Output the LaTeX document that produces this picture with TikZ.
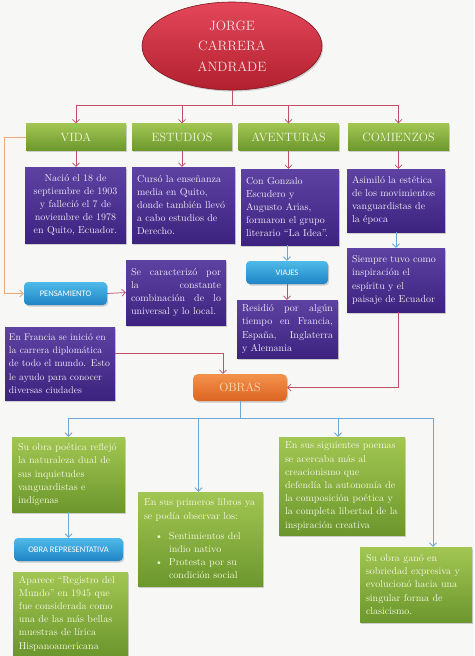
\documentclass[tikz,border=0pt]{standalone}
\usepackage{fontspec}
\newfontfamily\lblfont{Carlito}
\usetikzlibrary{shapes.geometric,arrows.meta,shadows}
\definecolor{bg}{HTML}{F7F7F6}
\definecolor{purtop}{HTML}{5E42A2}
\definecolor{purbot}{HTML}{3D2380}
\definecolor{grtop}{HTML}{A2C652}
\definecolor{grbot}{HTML}{6C972D}
\definecolor{redtop}{HTML}{E4475A}
\definecolor{redbot}{HTML}{B2202E}
\definecolor{ortop}{HTML}{F3924C}
\definecolor{orbot}{HTML}{DC6420}
\definecolor{bltop}{HTML}{4EBAE8}
\definecolor{blbot}{HTML}{1F84C6}
\definecolor{lnred}{HTML}{C05068}
\definecolor{lnblue}{HTML}{6BA7D9}
\definecolor{lnorange}{HTML}{EFA878}
\definecolor{ptext}{HTML}{EEEAF6}
\definecolor{gtext}{HTML}{F4F7E0}
\definecolor{ttext}{HTML}{F8E4E4}
\definecolor{otext}{HTML}{FBDDBE}
\tikzset{
  shad/.style={drop shadow={shadow xshift=1.2pt,shadow yshift=-1.5pt,opacity=0.35}},
  titlebox/.style={ellipse,shad,top color=redtop,bottom color=redbot,draw=redbot!70!black,line width=0.6pt,
    minimum width=180pt,minimum height=88pt,inner sep=0pt,align=center,text=ttext,
    font=\fontsize{13.5}{20.5}\selectfont},
  hdr/.style={rectangle,shad,top color=grtop,bottom color=grbot,minimum width=100pt,minimum height=27pt,
    inner sep=0pt,text=gtext,font=\fontsize{12}{14}\selectfont},
  pbox/.style={rectangle,shad,top color=purtop,bottom color=purbot,inner xsep=5pt,inner ysep=3pt,
    text=ptext,font=\fontsize{10}{13.2}\selectfont,align=left},
  gbox/.style={rectangle,shad,top color=grtop,bottom color=grbot,inner xsep=6pt,inner ysep=3pt,
    text=gtext,font=\fontsize{10}{13.2}\selectfont,align=left},
  lbl/.style={rectangle,rounded corners=4pt,shad,top color=bltop,bottom color=blbot,inner sep=0pt,
    minimum height=23pt,text=white,font=\lblfont\fontsize{8.5}{10}\selectfont},
  obrasbox/.style={rectangle,rounded corners=5pt,shad,top color=ortop,bottom color=orbot,inner sep=0pt,
    minimum width=94pt,minimum height=27pt,text=otext,font=\fontsize{12}{14}\selectfont},
  tip/.style={-{Straight Barb[length=3.5pt,width=7pt]}},
  rl/.style={draw=lnred,line width=0.7pt},
  bl/.style={draw=lnblue,line width=0.8pt},
  ol/.style={draw=lnorange,line width=0.8pt}
}
\begin{document}
\begin{tikzpicture}[x=1pt,y=-1pt]
\fill[bg] (0,0) rectangle (474,656);
\useasboundingbox (0,0) rectangle (474,656);

% title
\node[titlebox] (title) at (232,46) {JORGE\\CARRERA\\ANDRADE};

% headers
\node[hdr] (vida) at (76,137) {VIDA};
\node[hdr] (estudios) at (182,137) {ESTUDIOS};
\node[hdr] (aventuras) at (288.5,137) {AVENTURAS};
\node[hdr,minimum width=101pt] (comienzos) at (398.5,137) {COMIENZOS};

% purple boxes
\node[pbox,text width=91pt,minimum height=76pt,align=center] (vidabox) at (75.5,205)
  {Nació el 18 de\\septiembre de 1903\\y falleció el 7 de\\noviembre de 1978\\en Quito, Ecuador.};
\node[pbox,text width=93pt,minimum height=76pt] (estbox) at (183.5,205)
  {Cursó la enseñanza\\media en Quito,\\donde también llevó\\a cabo estudios de\\Derecho.};
\node[pbox,text width=88pt,minimum height=76pt] (avbox) at (290,207)
  {Con Gonzalo\\Escudero y\\Augusto Arias,\\formaron el grupo\\literario “La Idea”.};
\node[pbox,text width=88pt,minimum height=63pt] (combox) at (396,200.5)
  {Asimiló la estética\\de los movimientos\\vanguardistas de\\la época};
\node[pbox,text width=88pt,minimum height=64pt] (combox2) at (396,280)
  {Siempre tuvo como\\inspiración el\\espíritu y el\\paisaje de Ecuador};
\node[lbl,minimum width=82pt] (viajes) at (287,272.5) {VIAJES};
\node[pbox,text width=91pt,minimum height=58pt,align=justify] (residio) at (287.5,329)
  {Residió por algún\linebreak tiempo en Francia,\linebreak España, Inglaterra\linebreak y Alemania};
\node[lbl,minimum width=83pt] (pens) at (65.5,293.5) {PENSAMIENTO};
\node[pbox,text width=90pt,minimum height=65pt,align=justify] (secar) at (176,292.5)
  {Se caracterizó por\linebreak la constante\linebreak combinación de lo\linebreak universal y lo local.};
\node[pbox,inner xsep=4pt,text width=102pt,minimum height=73pt,font=\fontsize{9.7}{13.2}\selectfont] (francia) at (60,363.5)
  {En Francia se inició en\\la carrera diplomática\\de todo el mundo. Esto\\le ayudo para conocer\\diversas ciudades};
\node[obrasbox] (obras) at (240,387.5) {OBRAS};

% green boxes
\node[gbox,text width=101pt,minimum height=75pt] (g1) at (68.5,474.5)
  {Su obra poética reflejó\\la naturaleza dual de\\sus inquietudes\\vanguardistas e\\indígenas};
\node[gbox,text width=113pt,minimum height=94pt] (g2) at (200.5,539)
  {En sus primeros libros ya\\se podía observar los:\\[7pt]
   \hspace*{11pt}\makebox[14pt][l]{\textbullet}Sentimientos del\\
   \hspace*{25pt}indio nativo\\
   \hspace*{11pt}\makebox[14pt][l]{\textbullet}Protesta por su\\
   \hspace*{25pt}condición social};
\node[gbox,text width=114pt,minimum height=98pt] (g3) at (342,486)
  {En sus siguientes poemas\\se acercaba más al\\creacionismo que\\defendía la autonomía de\\la composición poética y\\la completa libertad de la\\inspiración creativa};
\node[gbox,text width=100pt,minimum height=75pt] (g4) at (416,584.5)
  {Su obra ganó en\\sobriedad expresiva y\\evolucionó hacia una\\singular forma de\\clasicismo.};
\node[lbl,minimum width=109pt] (obrarep) at (68.5,549.5) {OBRA REPRESENTATIVA};
\node[gbox,text width=103pt,minimum height=83pt] (g5) at (70.5,613.5)
  {Aparece “Registro del\\Mundo” en 1945 que\\fue considerada como\\una de las más bellas\\muestras de lírica\\Hispanoamericana};

% connectors top
\coordinate (tj) at (232,105);
\draw[rl] (title.south) -- (tj);
\draw[rl] (tj -| vida.north) -- (tj -| comienzos.north);
\draw[rl,tip] (tj -| vida.north) -- (vida.north);
\draw[rl,tip] (tj -| estudios.north) -- (estudios.north);
\draw[rl,tip] (tj -| aventuras.north) -- (aventuras.north);
\draw[rl,tip] (tj -| comienzos.north) -- (comienzos.north);

\draw[rl,tip] (vida.south) -- (vida.south |- vidabox.north);
\draw[rl,tip] (estudios.south) -- (estudios.south |- estbox.north);
\draw[rl,tip] (aventuras.south) -- (aventuras.south |- avbox.north);
\draw[rl,tip] (comienzos.south) -- (comienzos.south |- combox.north);

\draw[bl,tip] (combox.south) -- (combox2.north);
\draw[bl,tip] (avbox.south -| viajes.north) -- (viajes.north);
\draw[rl,tip] (viajes.south) -- (viajes.south |- residio.north);

\draw[ol,tip] (vida.west) -- ++(-21,0) |- (pens.west);
\draw[rl,tip] (pens.east) -- (secar.west);

\draw[rl,tip] ([yshift=10pt]francia.east) -| ([xshift=-17pt]obras.north);
\draw[rl,tip] ([xshift=2pt]combox2.south) |- (obras.east);

% connectors bottom
\coordinate (bj) at (240,418);
\coordinate (g4a) at (433,418);
\draw[bl] (obras.south) -- (bj);
\draw[bl] (bj -| g1.north) -- (g4a);
\draw[bl,tip] (bj -| g1.north) -- (g1.north);
\draw[bl,tip] ([xshift=-2pt]bj -| g2.north) -- ([xshift=-2pt]g2.north);
\draw[bl,tip] ([xshift=-4pt]bj -| g3.north) -- ([xshift=-4pt]g3.north);
\draw[bl,tip] (g4a) -- (g4a |- g4.north);
\draw[bl,tip] (g1.south) -- (obrarep.north);
\end{tikzpicture}
\end{document}
